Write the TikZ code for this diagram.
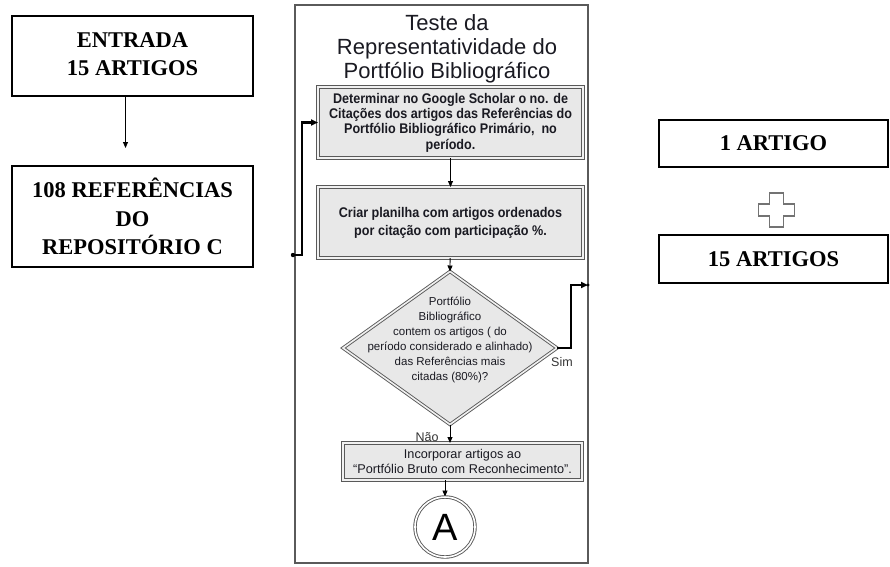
\documentclass[tikz,border=0pt]{standalone}
\usepackage{fontspec}
\setmainfont{Liberation Sans}
\newfontfamily\tnr{Liberation Serif}
\newfontfamily\narrowsans{Liberation Sans}[FakeStretch=0.9]
\usetikzlibrary{arrows.meta,shapes.geometric}
\definecolor{frame}{HTML}{5A5A5A}
\definecolor{boxfill}{HTML}{E8E8E8}
\definecolor{txt}{HTML}{1A1A22}
\tikzset{
  leftbox/.style={draw=black,line width=1.1pt,inner sep=0pt,outer sep=0pt,align=center,
    font=\tnr\bfseries\fontsize{22.5}{28.5}\selectfont},
  procbox/.style={draw=black!65,double=boxfill!60!white,double distance=1.6pt,line width=0.9pt,
    fill=boxfill,inner sep=0pt,outer sep=0pt,align=center,text=txt},
  decision/.style={diamond,draw=black!65,double=boxfill!60!white,double distance=1.6pt,line width=0.9pt,
    fill=boxfill,inner sep=0pt,outer sep=0pt},
  connector/.style={circle,draw=black!65,double=white,double distance=1.6pt,line width=0.9pt,
    fill=white,inner sep=0pt,minimum size=60pt,font=\fontsize{38}{40}\selectfont},
  panel/.style={draw=frame,line width=1.3pt,inner sep=0pt,outer sep=0pt},
  arr/.style={-{Triangle[length=6pt,width=5pt]},line width=0.8pt,black},
  loopline/.style={-{Triangle[length=7pt,width=6pt]},line width=2.2pt,black},
  smalltxt/.style={font=\fontsize{12.5}{14}\selectfont,text=black!80,inner sep=0pt},
}
\begin{document}
\begin{tikzpicture}[x=1pt,y=-1pt]
\useasboundingbox (0,0) rectangle (890,566);
% left column
\node[leftbox,minimum width=241pt,minimum height=80pt] (in1) at (132.5,56) {\raisebox{3pt}{\begin{tabular}{@{}c@{}}ENTRADA\\15 ARTIGOS\end{tabular}}};
\node[leftbox,minimum width=241pt,minimum height=101pt] (in2) at (132.5,216.5) {108 REFERÊNCIAS\\DO\\REPOSITÓRIO C};
\draw[arr] ([xshift=-7pt]in1.south) -- ([xshift=-7pt,yshift=18pt]in2.north);
% right column
\node[leftbox,minimum width=229pt,minimum height=47pt] (r1) at (773.5,143.5) {1 ARTIGO};
\node[leftbox,minimum width=229pt,minimum height=48pt] (r2) at (773.5,259) {15 ARTIGOS};
\draw[draw=black!55,line width=1.2pt,fill=white] (776.5,210) ++(-7,-17) -- ++(14,0) -- ++(0,11) -- ++(11,0) -- ++(0,12) -- ++(-11,0) -- ++(0,11) -- ++(-14,0) -- ++(0,-11) -- ++(-11,0) -- ++(0,-12) -- ++(11,0) -- cycle;
% central panel
\node[panel,minimum width=293pt,minimum height=558pt] (panel) at (441.5,284) {};
\node[align=center,text=txt,font=\fontsize{22}{24}\selectfont,inner sep=0pt] (title) at (447,48.5)
  {Teste da\\Representatividade do\\Portfólio Bibliográfico};
\node[procbox,minimum width=265pt,minimum height=71pt,font=\narrowsans\bfseries\fontsize{14}{15.3}\selectfont] (b1) at (450.5,122.5)
  {Determinar no Google Scholar o no. de\\Citações dos artigos das Referências do\\Portfólio Bibliográfico Primário,\ \ no\\período.};
\node[procbox,minimum width=265pt,minimum height=71pt,font=\narrowsans\bfseries\fontsize{14}{18}\selectfont] (b2) at (450.5,222.5)
  {Criar planilha com artigos ordenados\\por citação com participação \%.};
\node[decision,minimum width=214pt,minimum height=153pt] (d) at (450,348) {};
\node[align=center,text=txt,font=\fontsize{11.5}{15}\selectfont,inner sep=0pt] (dt) at ([yshift=8pt]d.center)
  {Portfólio\\Bibliográfico\\contem os artigos ( do\\período considerado e alinhado)\\das Referências mais\\citadas (80\%)?};
\node[procbox,minimum width=239pt,minimum height=37pt,font=\fontsize{12.7}{15}\selectfont] (b3) at (462.5,461.5)
  {Incorporar artigos ao\\“Portfólio Bruto com Reconhecimento”.};
\node[connector] (A) at (445,527) {A};
% connectors
\draw[arr] (b1) -- (b2);
\draw[arr] (b2) -- (d.north);
\draw[arr] (d.south) -- (d.south |- b3.north);
\draw[arr] (A.north |- b3.south) -- (A.north);
\coordinate (outR) at (588,285);
\coordinate (outL) at (293,255);
\draw[loopline] (d.east) -- ++(14,0) |- (outR);
\fill (outR) circle (1.6pt);
\draw[loopline] (outL) -- ++(9,0) |- (b1.west);
\fill (outL) circle (2.2pt);
\node[smalltxt] (sim) at (562,362) {Sim};
\node[smalltxt] (nao) at (427,437) {Não};
\end{tikzpicture}
\end{document}
